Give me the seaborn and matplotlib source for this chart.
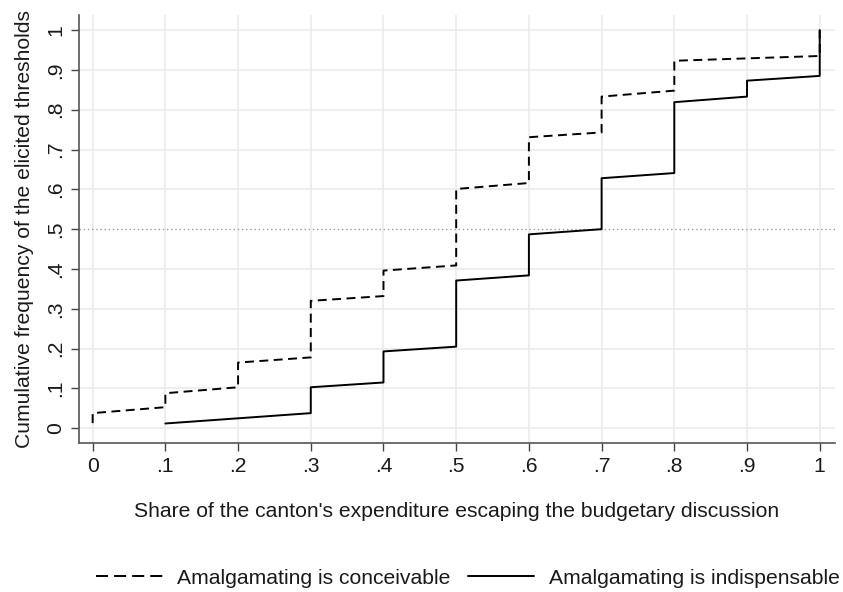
import numpy as np
import pandas as pd
import matplotlib
matplotlib.use("Agg")
import matplotlib.pyplot as plt
import seaborn as sns

# cumulative frequency points (x = threshold share, y = cumulative freq)
conceivable_x = [0, 0, .1, .1, .2, .2, .3, .3, .4, .4, .5, .5, .6, .6, .7, .7, .8, .8, 1, 1]
conceivable_y = [0.013, 0.038, 0.053, 0.088, 0.103, 0.165, 0.178, 0.320, 0.332, 0.396,
                 0.409, 0.601, 0.616, 0.731, 0.743, 0.833, 0.848, 0.923, 0.935, 1.0]

indispensable_x = [.1, .2, .3, .3, .4, .4, .5, .5, .6, .6, .7, .7, .8, .8, .9, .9, 1, 1]
indispensable_y = [0.012, 0.025, 0.038, 0.103, 0.115, 0.193, 0.205, 0.371, 0.384, 0.487,
                   0.500, 0.628, 0.641, 0.819, 0.833, 0.873, 0.885, 1.0]

label_a = "Amalgamating is conceivable"
label_b = "Amalgamating is indispensable"

ticks = [0, .1, .2, .3, .4, .5, .6, .7, .8, .9, 1]
tick_labels = ["0", ".1", ".2", ".3", ".4", ".5", ".6", ".7", ".8", ".9", "1"]

df = pd.concat([
    pd.DataFrame({"x": conceivable_x, "y": conceivable_y, "group": label_a}),
    pd.DataFrame({"x": indispensable_x, "y": indispensable_y, "group": label_b}),
], ignore_index=True)

sns.set_style("white")
plt.rcParams["font.family"] = ["Liberation Sans", "DejaVu Sans"]
fs = 15.2
txt_col = "#1a1a1a"

fig = plt.figure(figsize=(8.43, 5.92), dpi=100)
ax = fig.add_axes([0.0937, 0.2517, 0.8968, 0.7230])

# grid
for t in ticks:
    ax.axvline(t, color="#ebebeb", lw=1.2, zorder=0)
    if t != .5:
        ax.axhline(t, color="#ebebeb", lw=1.2, zorder=0)
ax.axhline(0.5, color="#9a9a9a", lw=1.0, ls=(0, (1, 2)), zorder=1)

sns.lineplot(data=df, x="x", y="y", style="group", estimator=None, sort=False,
             color="black", dashes={label_a: (4.6, 2.8), label_b: ""},
             linewidth=1.4, ax=ax, legend=False)

ax.set_xlim(-0.0188, 1.021)
ax.set_ylim(-0.037, 1.038)
ax.set_xticks(ticks)
ax.set_xticklabels(tick_labels, fontsize=fs, color=txt_col)
ax.set_yticks(ticks)
ax.set_yticklabels(tick_labels, fontsize=fs, rotation=90, va="center", color=txt_col)
ax.tick_params(axis="both", direction="out", length=6, width=1, color="#444444",
               pad=4, bottom=True, left=True)

for s in ["top", "right"]:
    ax.spines[s].set_visible(False)
for s in ["left", "bottom"]:
    ax.spines[s].set_color("#555555")
    ax.spines[s].set_linewidth(1.2)

ax.set_xlabel("Share of the canton's expenditure escaping the budgetary discussion",
              fontsize=fs, labelpad=19, color=txt_col)
ax.set_ylabel("Cumulative frequency of the elicited thresholds", fontsize=fs,
              labelpad=9, color=txt_col)

handles = [
    plt.Line2D([], [], color="black", lw=1.4, ls=(0, (6.2, 3.1))),
    plt.Line2D([], [], color="black", lw=1.4),
]
fig.legend(handles, [label_a, label_b], loc="center left", bbox_to_anchor=(0.114, 0.023),
           ncol=2, frameon=False, fontsize=fs, handlelength=3.15, handletextpad=0.7,
           columnspacing=0.8, borderpad=0, borderaxespad=0, labelcolor=txt_col)

fig.savefig("out.png", dpi=100)
